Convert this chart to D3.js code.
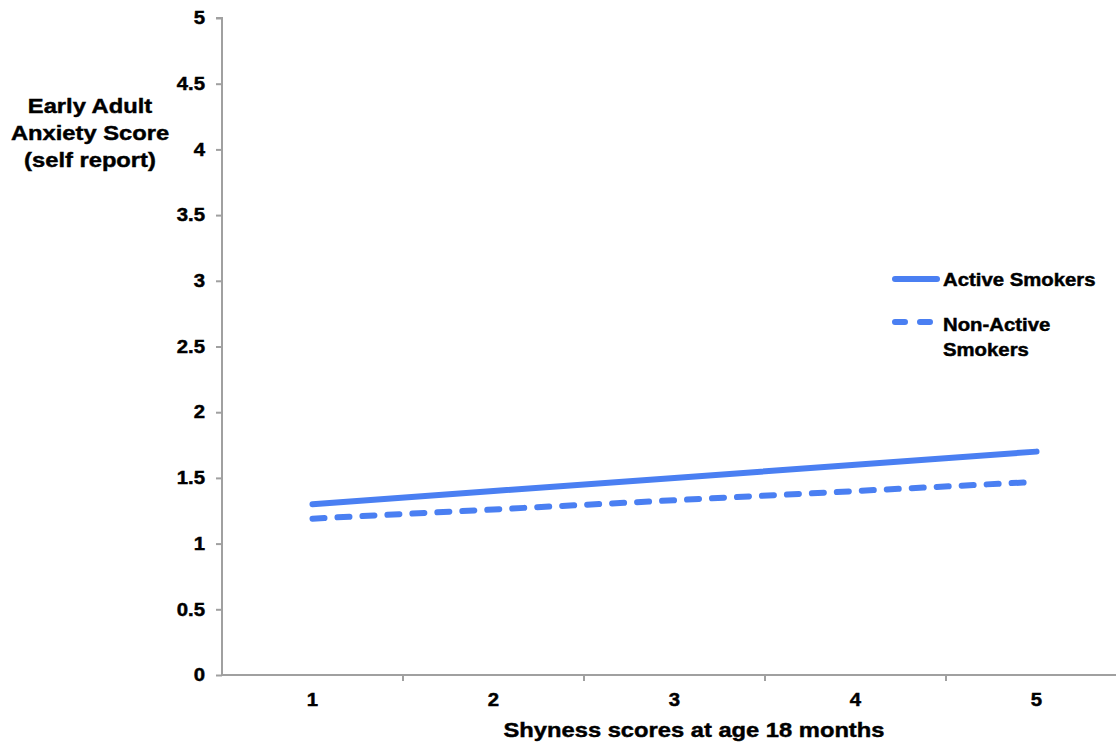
<!DOCTYPE html>
<html><head><meta charset="utf-8">
<script src="https://cdn.jsdelivr.net/npm/d3@7"></script>
<style>body{margin:0;background:#fff}svg{display:block}text{font-family:"Liberation Sans",Arial,sans-serif;font-weight:bold;fill:#000;stroke:#000;stroke-width:0.45px}</style>
</head><body><svg id="c" width="1116" height="747"></svg>
<script>
const categories = ["1","2","3","4","5"];
const activeSmokers = [1.3,1.4,1.5,1.6,1.7];
const nonActiveSmokers = [1.19,1.26,1.33,1.40,1.47];
const yTicks = [0,0.5,1,1.5,2,2.5,3,3.5,4,4.5,5];
const seriesNames = ["Active Smokers","Non-Active Smokers"];

const svg = d3.select("#c");
const mLeft=222, mTop=18, mBottom=675, bandW=181, SX=1.13;
const x = d3.scaleBand().domain(categories).range([mLeft,mLeft+bandW*5]).padding(0);
const y = d3.scaleLinear().domain([0,5]).range([mBottom,mTop]);
const axisColor="#a0a0a0", lineColor="#4a7ff2";

function stretched(parent, px, py, size, anchor, str){
  return parent.append("text").attr("transform",`translate(${px},${py}) scale(${SX},1)`)
    .attr("text-anchor",anchor).style("font-size",size+"px").text(str);
}

// y axis
const ya = svg.append("g").attr("transform",`translate(${mLeft},0)`)
  .call(d3.axisLeft(y).tickValues(yTicks).tickSize(6).tickPadding(10).tickFormat(d=>d));
ya.select(".domain").attr("stroke",axisColor).attr("stroke-width",2).attr("d",`M-6,${mTop}H0V${mBottom}`);
ya.selectAll(".tick line").attr("stroke",axisColor).attr("stroke-width",2);
ya.selectAll(".tick text").attr("x",-15).attr("transform",`scale(${SX},1)`)
  .style("font-size","18px").style("font-weight","bold").attr("fill","#000");

// x axis
const xg = svg.append("g").attr("transform",`translate(0,${mBottom})`);
xg.append("line").attr("x1",mLeft).attr("x2",1116).attr("y1",0).attr("y2",0).attr("stroke",axisColor).attr("stroke-width",2);
categories.forEach((c,i)=>{
  const bx = x(c);
  if(i>0) xg.append("line").attr("x1",bx).attr("x2",bx).attr("y1",0).attr("y2",6).attr("stroke",axisColor).attr("stroke-width",2);
  stretched(xg, bx+x.bandwidth()/2, 31, 18, "middle", c);
});

// lines
const line = d3.line().x((d,i)=>x(categories[i])+x.bandwidth()/2).y(d=>y(d));
svg.append("path").datum(activeSmokers).attr("d",line).attr("fill","none").attr("stroke",lineColor).attr("stroke-width",6).attr("stroke-linecap","round");
svg.append("path").datum(nonActiveSmokers).attr("d",line).attr("fill","none").attr("stroke",lineColor).attr("stroke-width",6).attr("stroke-linecap","round").attr("stroke-dasharray","12,13");

// legend
const lg = svg.append("g");
lg.append("line").attr("x1",895).attr("x2",937).attr("y1",279).attr("y2",279).attr("stroke",lineColor).attr("stroke-width",6).attr("stroke-linecap","round");
stretched(lg, 943, 286, 18, "start", seriesNames[0]);
lg.append("line").attr("x1",895).attr("x2",930).attr("y1",322).attr("y2",322).attr("stroke",lineColor).attr("stroke-width",6).attr("stroke-linecap","round").attr("stroke-dasharray","10,15");
stretched(lg, 943, 331, 18, "start", "Non-Active");
stretched(lg, 943, 356, 18, "start", "Smokers");

// axis titles
["Early Adult","Anxiety Score","(self report)"].forEach((s,i)=>stretched(svg, 90, 113+i*27, 21, "middle", s));
stretched(svg, 694, 737, 21, "middle", "Shyness scores at age 18 months");
</script></body></html>
